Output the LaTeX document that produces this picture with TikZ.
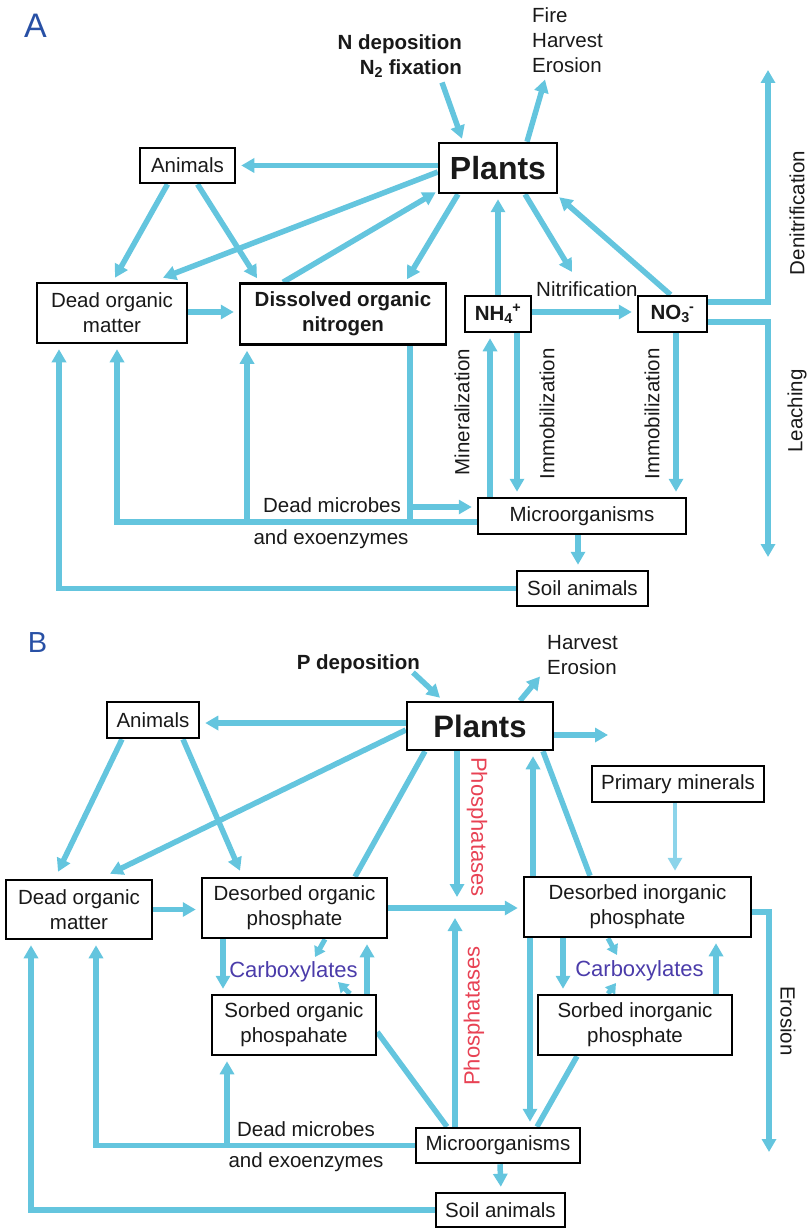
\documentclass[tikz,border=0pt]{standalone}
\usepackage{fontspec}
\setmainfont{Liberation Sans}
\usetikzlibrary{arrows.meta,backgrounds}
\definecolor{flow}{RGB}{100,197,222}
\definecolor{flowlt}{RGB}{140,212,234}
\definecolor{lblblue}{RGB}{40,80,165}
\definecolor{phred}{RGB}{232,66,84}
\definecolor{carbp}{RGB}{75,60,170}
\definecolor{txt}{RGB}{25,25,25}
\newcommand\myfs{\fontsize{20.5}{25}\selectfont}
\newcommand\myNH{NH\textsubscript{4}\kern-0.5pt\textsuperscript{+}}
\newcommand\myNO{NO\textsubscript{3}\kern-0.5pt\textsuperscript{-}}
\begin{document}
\begin{tikzpicture}[x=1pt,y=-1pt,
 box/.style={draw=black,fill=white,line width=2.5pt,inner sep=0pt,align=center,font=\myfs,text=txt},
 lbl/.style={inner sep=0pt,font=\myfs,text=txt},
 arr/.style={draw=flow,line width=5.5pt,-{Triangle[length=13pt,width=14pt]},shorten >=5pt},
 arrf/.style={arr,shorten >=0pt},
 sarr/.style={draw=flow,line width=5pt,-{Triangle[length=10pt,width=12pt]}},
 ln/.style={draw=flow,line width=5.5pt},
]
\useasboundingbox (0,0) rectangle (809,1230);

% ---------------- Panel A ----------------
\node[inner sep=0pt,font=\fontsize{34}{34}\selectfont,text=lblblue] (labA) at (35.5,25.5) {A};
\node[lbl,font=\myfs\bfseries,anchor=base east] (aNdep) at (462,49.5) {N deposition};
\node[lbl,font=\myfs\bfseries,anchor=base east] (aNfix) at (462,74.5) {N\textsubscript{2} fixation};
\node[lbl,anchor=base west] (aFire) at (532,22.5) {Fire};
\node[lbl,anchor=base west] (aHarv) at (532,47.5) {Harvest};
\node[lbl,anchor=base west] (aEro) at (532,72.5) {Erosion};
\node[lbl,anchor=base west] (aNit) at (536,297) {Nitrification};
\node[lbl,rotate=90] (aDen) at (797,213) {Denitrification};
\node[lbl,rotate=90] (aLea) at (797,411) {Leaching};
\node[lbl,rotate=90] (aMin) at (462,412) {Mineralization};
\node[lbl,rotate=90] (aImm1) at (547,414) {Immobilization};
\node[lbl,rotate=90] (aImm2) at (652,414) {Immobilization};
\node[lbl,anchor=base] (aDM1) at (332,512) {Dead microbes};
\node[lbl,anchor=base] (aDM2) at (331,544) {and exoenzymes};

\node[box,minimum width=95pt,minimum height=35pt] (aAnim) at (187.5,165.5) {Animals};
\node[box,minimum width=118pt,minimum height=50pt,font=\fontsize{32}{36}\selectfont\bfseries] (aPlants) at (498,168) {Plants};
\node[box,minimum width=150pt,minimum height=60pt] (aDOM) at (112,313) {Dead organic\\matter};
\node[box,minimum width=206pt,minimum height=61pt,font=\myfs\bfseries] (aDON) at (343,314) {Dissolved organic\\nitrogen};
\node[box,minimum width=66pt,minimum height=36pt,font=\myfs\bfseries] (aNH) at (498,314) {\myNH};
\node[box,minimum width=69pt,minimum height=36pt,font=\myfs\bfseries] (aNO) at (672.5,314) {\myNO};
\node[box,minimum width=208pt,minimum height=36pt] (aMic) at (582,516) {Microorganisms};
\node[box,minimum width=131pt,minimum height=35pt] (aSoil) at (582.5,588.5) {Soil animals};

\coordinate (denTop) at (768,70);
\coordinate (leaBot) at (768,557);
\coordinate (nitTip) at (572,272);
\coordinate (aJ1) at (247,522);
\coordinate (aJ2) at (410,522);
\coordinate (aJ3) at (410,507);

\begin{scope}[on background layer]
\draw[arrf] ([xshift=-20pt,yshift=-8pt]aNfix.base east) -- ([xshift=-36pt,yshift=3pt]aPlants.north);
\draw[arrf] ([xshift=29pt]aPlants.north) -- ([xshift=13pt,yshift=-7pt]aEro.base west);
\draw[arrf] ([yshift=12pt]aNO.east) -| (denTop);
\draw[arrf] ([yshift=-8pt]aNO.east) -| (leaBot);
\draw[arr] (aPlants.west |- aAnim.east) -- (aAnim.east);
\draw[arrf] ([yshift=-4pt]aPlants.west) -- ([xshift=51pt,yshift=4pt]aDOM.north);
\draw[arrf] ([xshift=-60pt]aDON.north) -- ([xshift=-2pt,yshift=2pt]aPlants.south west);
\draw[arrf] ([xshift=-40pt]aPlants.south) -- ([xshift=64pt,yshift=3pt]aDON.north);
\draw[arr] (aNH.north) -- (aPlants.south);
\draw[arrf] ([xshift=27pt]aPlants.south) -- (nitTip);
\draw[arrf] ([xshift=-2pt]aNO.north) -- ([xshift=1pt,yshift=-3pt]aPlants.south east);
\draw[arrf] ([xshift=-20pt]aAnim.south) -- ([xshift=3pt,yshift=4pt]aDOM.north);
\draw[arrf] ([xshift=10pt]aAnim.south) -- ([xshift=-86pt,yshift=4pt]aDON.north);
\draw[arr] ([yshift=1pt]aDOM.east) -- ([yshift=2pt]aDON.west);
\draw[arr] ([yshift=2pt]aNH.east) -- ([yshift=2pt]aNO.west);
\draw[arr] (aSoil.west) -| ([xshift=-53pt]aDOM.south);
\draw[arr] ([yshift=-6pt]aMic.west) -| ([xshift=5pt]aDOM.south);
\draw[arr] (aJ1) -- (aJ1 |- aDON.south);
\draw[ln] (aJ2 |- aDON.south) -- (aJ2);
\draw[arr] (aJ3) -- (aJ3 -| aMic.west);
\draw[arr] ([xshift=-92pt]aMic.north) -- ([xshift=-8pt]aNH.south);
\draw[arr] ([xshift=19pt]aNH.south) -- ([xshift=-65pt]aMic.north);
\draw[arr] ([xshift=3.5pt]aNO.south) -- ([xshift=94pt]aMic.north);
\draw[arr] ([xshift=-4pt]aMic.south) -- ([xshift=-4.5pt]aSoil.north);
\end{scope}

% ---------------- Panel B ----------------
\node[inner sep=0pt,font=\fontsize{29}{29}\selectfont,text=lblblue] (labB) at (37.5,643) {B};
\node[lbl,font=\myfs\bfseries,anchor=base east] (bPdep) at (420,669.5) {P deposition};
\node[lbl,anchor=base west] (bHarv) at (547,649.5) {Harvest};
\node[lbl,anchor=base west] (bEro) at (547,674.5) {Erosion};
\node[lbl,font=\fontsize{22}{22}\selectfont,text=phred,rotate=-90] (bPh1) at (477,827) {Phosphatases};
\node[lbl,font=\fontsize{22}{22}\selectfont,text=phred,rotate=90] (bPh2) at (474,1016) {Phosphatases};
\node[lbl,font=\fontsize{22}{22}\selectfont,text=carbp,anchor=base] (bC1) at (293.5,977) {Carboxylates};
\node[lbl,font=\fontsize{22}{22}\selectfont,text=carbp,anchor=base] (bC2) at (639.5,976) {Carboxylates};
\node[lbl,rotate=-90] (bEroT) at (788,1021) {Erosion};
\node[lbl,anchor=base] (bDM1) at (306,1136) {Dead microbes};
\node[lbl,anchor=base] (bDM2) at (306,1167) {and exoenzymes};

\node[box,minimum width=92pt,minimum height=36pt] (bAnim) at (153,720) {Animals};
\node[box,minimum width=146pt,minimum height=48pt,font=\fontsize{31}{35}\selectfont\bfseries] (bPlants) at (480,726) {Plants};
\node[box,minimum width=172pt,minimum height=36pt] (bPrim) at (678,784) {Primary minerals};
\node[box,minimum width=146pt,minimum height=59pt] (bDOM) at (79,909.5) {Dead organic\\matter};
\node[box,minimum width=185pt,minimum height=60pt] (bDOP) at (294.5,908) {Desorbed organic\\phosphate};
\node[box,minimum width=227pt,minimum height=60pt] (bDIP) at (637.5,907) {Desorbed inorganic\\phosphate};
\node[box,minimum width=164pt,minimum height=60pt] (bSOP) at (294,1025) {Sorbed organic\\phospahate};
\node[box,minimum width=194pt,minimum height=60pt] (bSIP) at (635,1025) {Sorbed inorganic\\phosphate};
\node[box,minimum width=164pt,minimum height=35pt] (bMic) at (498,1145.5) {Microorganisms};
\node[box,minimum width=129pt,minimum height=34pt] (bSoil) at (500.5,1210) {Soil animals};

\coordinate (bOut) at (608,735);
\coordinate (bPt1) at (457,897);
\coordinate (bPt2) at (455,918);
\coordinate (bEroBot) at (769,1152);
\coordinate (bCt1) at (315,957);
\coordinate (bCt2) at (338,982);
\coordinate (bCt3) at (617,955);
\coordinate (bCt4) at (616,983);
\coordinate (bJ1) at (227,1145.5);

\begin{scope}[on background layer]
\draw[arrf] ([xshift=-7pt,yshift=-3pt]bPdep.base east) -- ([xshift=-40pt,yshift=3pt]bPlants.north);
\draw[arrf] ([xshift=40pt]bPlants.north) -- ([xshift=-7pt,yshift=-2pt]bEro.base west);
\draw[arrf] ([yshift=-9pt]bPlants.east) -- (bOut);
\draw[arr] ([yshift=3pt]bPlants.west) -- ([yshift=-3pt]bAnim.east);
\draw[arrf] ([yshift=-4pt]bPlants.west) -- ([xshift=31pt,yshift=5pt]bDOM.north);
\draw[arrf] ([xshift=-31pt]bAnim.south) -- ([xshift=-21pt,yshift=7pt]bDOM.north);
\draw[arrf] ([xshift=30pt]bAnim.south) -- ([xshift=-54.5pt,yshift=6pt]bDOP.north);
\draw[arr] (bDOM.east) -- (bDOM.east -| bDOP.west);
\draw[ln] ([xshift=-55pt]bPlants.south) -- ([xshift=60.5pt]bDOP.north);
\draw[arrf] ([xshift=-23pt]bPlants.south) -- (bPt1);
\draw[arr] (bDOP.east) -- (bDOP.east -| bDIP.west);
\draw[arrf] ([xshift=-43pt]bMic.north) -- (bPt2);
\draw[arr] ([xshift=-104.5pt]bDIP.north) -- ([xshift=53pt]bPlants.south);
\draw[ln] ([xshift=63pt]bPlants.south) -- ([xshift=-47.5pt]bDIP.north);
\draw[arr,draw=flowlt,line width=4pt] ([xshift=-3pt]bPrim.south) -- ([xshift=37.5pt]bDIP.north);
\draw[arrf] ([yshift=-5pt]bDIP.east) -| (bEroBot);
\draw[arr] ([xshift=-71.5pt]bDOP.south) -- ([xshift=-71pt]bSOP.north);
\draw[arr] ([xshift=73pt]bSOP.north) -- ([xshift=72.5pt]bDOP.south);
\draw[sarr] ([xshift=30.5pt]bDOP.south) -- (bCt1);
\draw[sarr] ([xshift=56pt]bSOP.north) -- (bCt2);
\draw[arr] ([xshift=-74.5pt]bDIP.south) -- ([xshift=-72pt]bSIP.north);
\draw[arr] ([xshift=81pt]bSIP.north) -- ([xshift=78.5pt]bDIP.south);
\draw[sarr] ([xshift=-29.5pt]bDIP.south) -- (bCt3);
\draw[sarr] ([xshift=-27pt]bSIP.north) -- (bCt4);
\draw[ln] ([yshift=-7pt]bSOP.east) -- ([xshift=-51pt]bMic.north);
\draw[ln] ([xshift=-58pt]bSIP.south) -- ([xshift=39pt]bMic.north);
\draw[arr] ([xshift=-107.5pt]bDIP.south) -- ([xshift=32pt]bMic.north);
\draw[arr] (bMic.west) -| ([xshift=17pt]bDOM.south);
\draw[arr] (bJ1) -- (bJ1 |- bSOP.south);
\draw[arr] (bSoil.west) -| ([xshift=-48pt]bDOM.south);
\draw[arr] ([xshift=2pt]bMic.south) -- ([xshift=0.5pt]bSoil.north);
\end{scope}
\end{tikzpicture}
\end{document}
